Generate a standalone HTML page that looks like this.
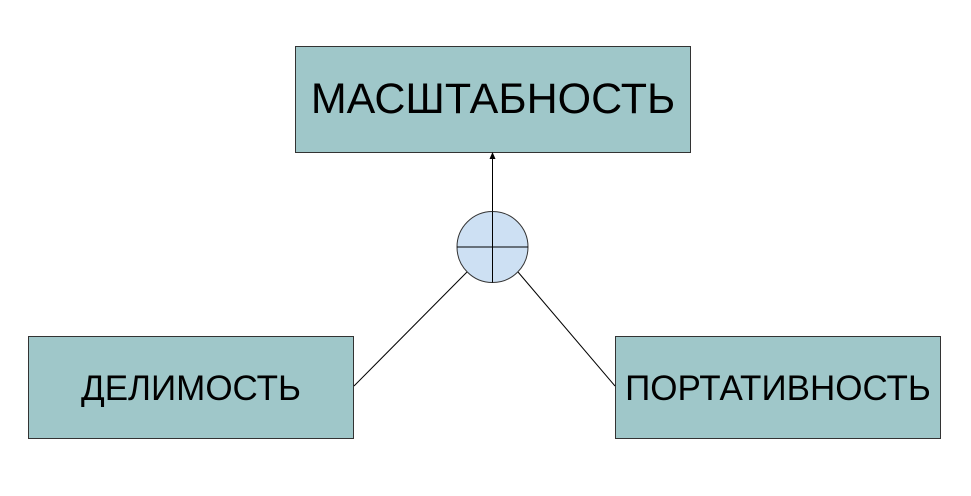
<!DOCTYPE html>
<html><head><style>
body{margin:0;background:#fff;width:971px;height:496px;overflow:hidden}
.b{position:absolute;background:#9fc7c9;border:1px solid #333;box-sizing:border-box;display:flex;align-items:center;justify-content:center;font-family:"Liberation Sans",sans-serif;color:#000}
</style></head><body>
<div class="b" style="left:295px;top:46px;width:396px;height:107px;font-size:43px">МАСШТАБНОСТЬ</div>
<div class="b" style="left:28px;top:336px;width:326px;height:103px;font-size:35px;padding-top:3px">ДЕЛИМОСТЬ</div>
<div class="b" style="left:615px;top:336px;width:326px;height:103px;font-size:35px;padding-top:3px">ПОРТАТИВНОСТЬ</div>
<svg width="971" height="496" style="position:absolute;left:0;top:0">
<line x1="492.5" y1="211" x2="492.5" y2="158" stroke="#000" stroke-width="1"/>
<polygon points="492.5,152 489.5,159 495.5,159" fill="#000"/>
<line x1="354" y1="386" x2="467" y2="272" stroke="#000" stroke-width="1"/>
<line x1="615" y1="386" x2="518" y2="272" stroke="#000" stroke-width="1"/>
<circle cx="492.5" cy="247" r="35.5" fill="#cde0f3" stroke="#333" stroke-width="1"/>
<line x1="457" y1="247" x2="528" y2="247" stroke="#000"/>
<line x1="492.5" y1="211.5" x2="492.5" y2="282.5" stroke="#000"/>
</svg>
</body></html>
